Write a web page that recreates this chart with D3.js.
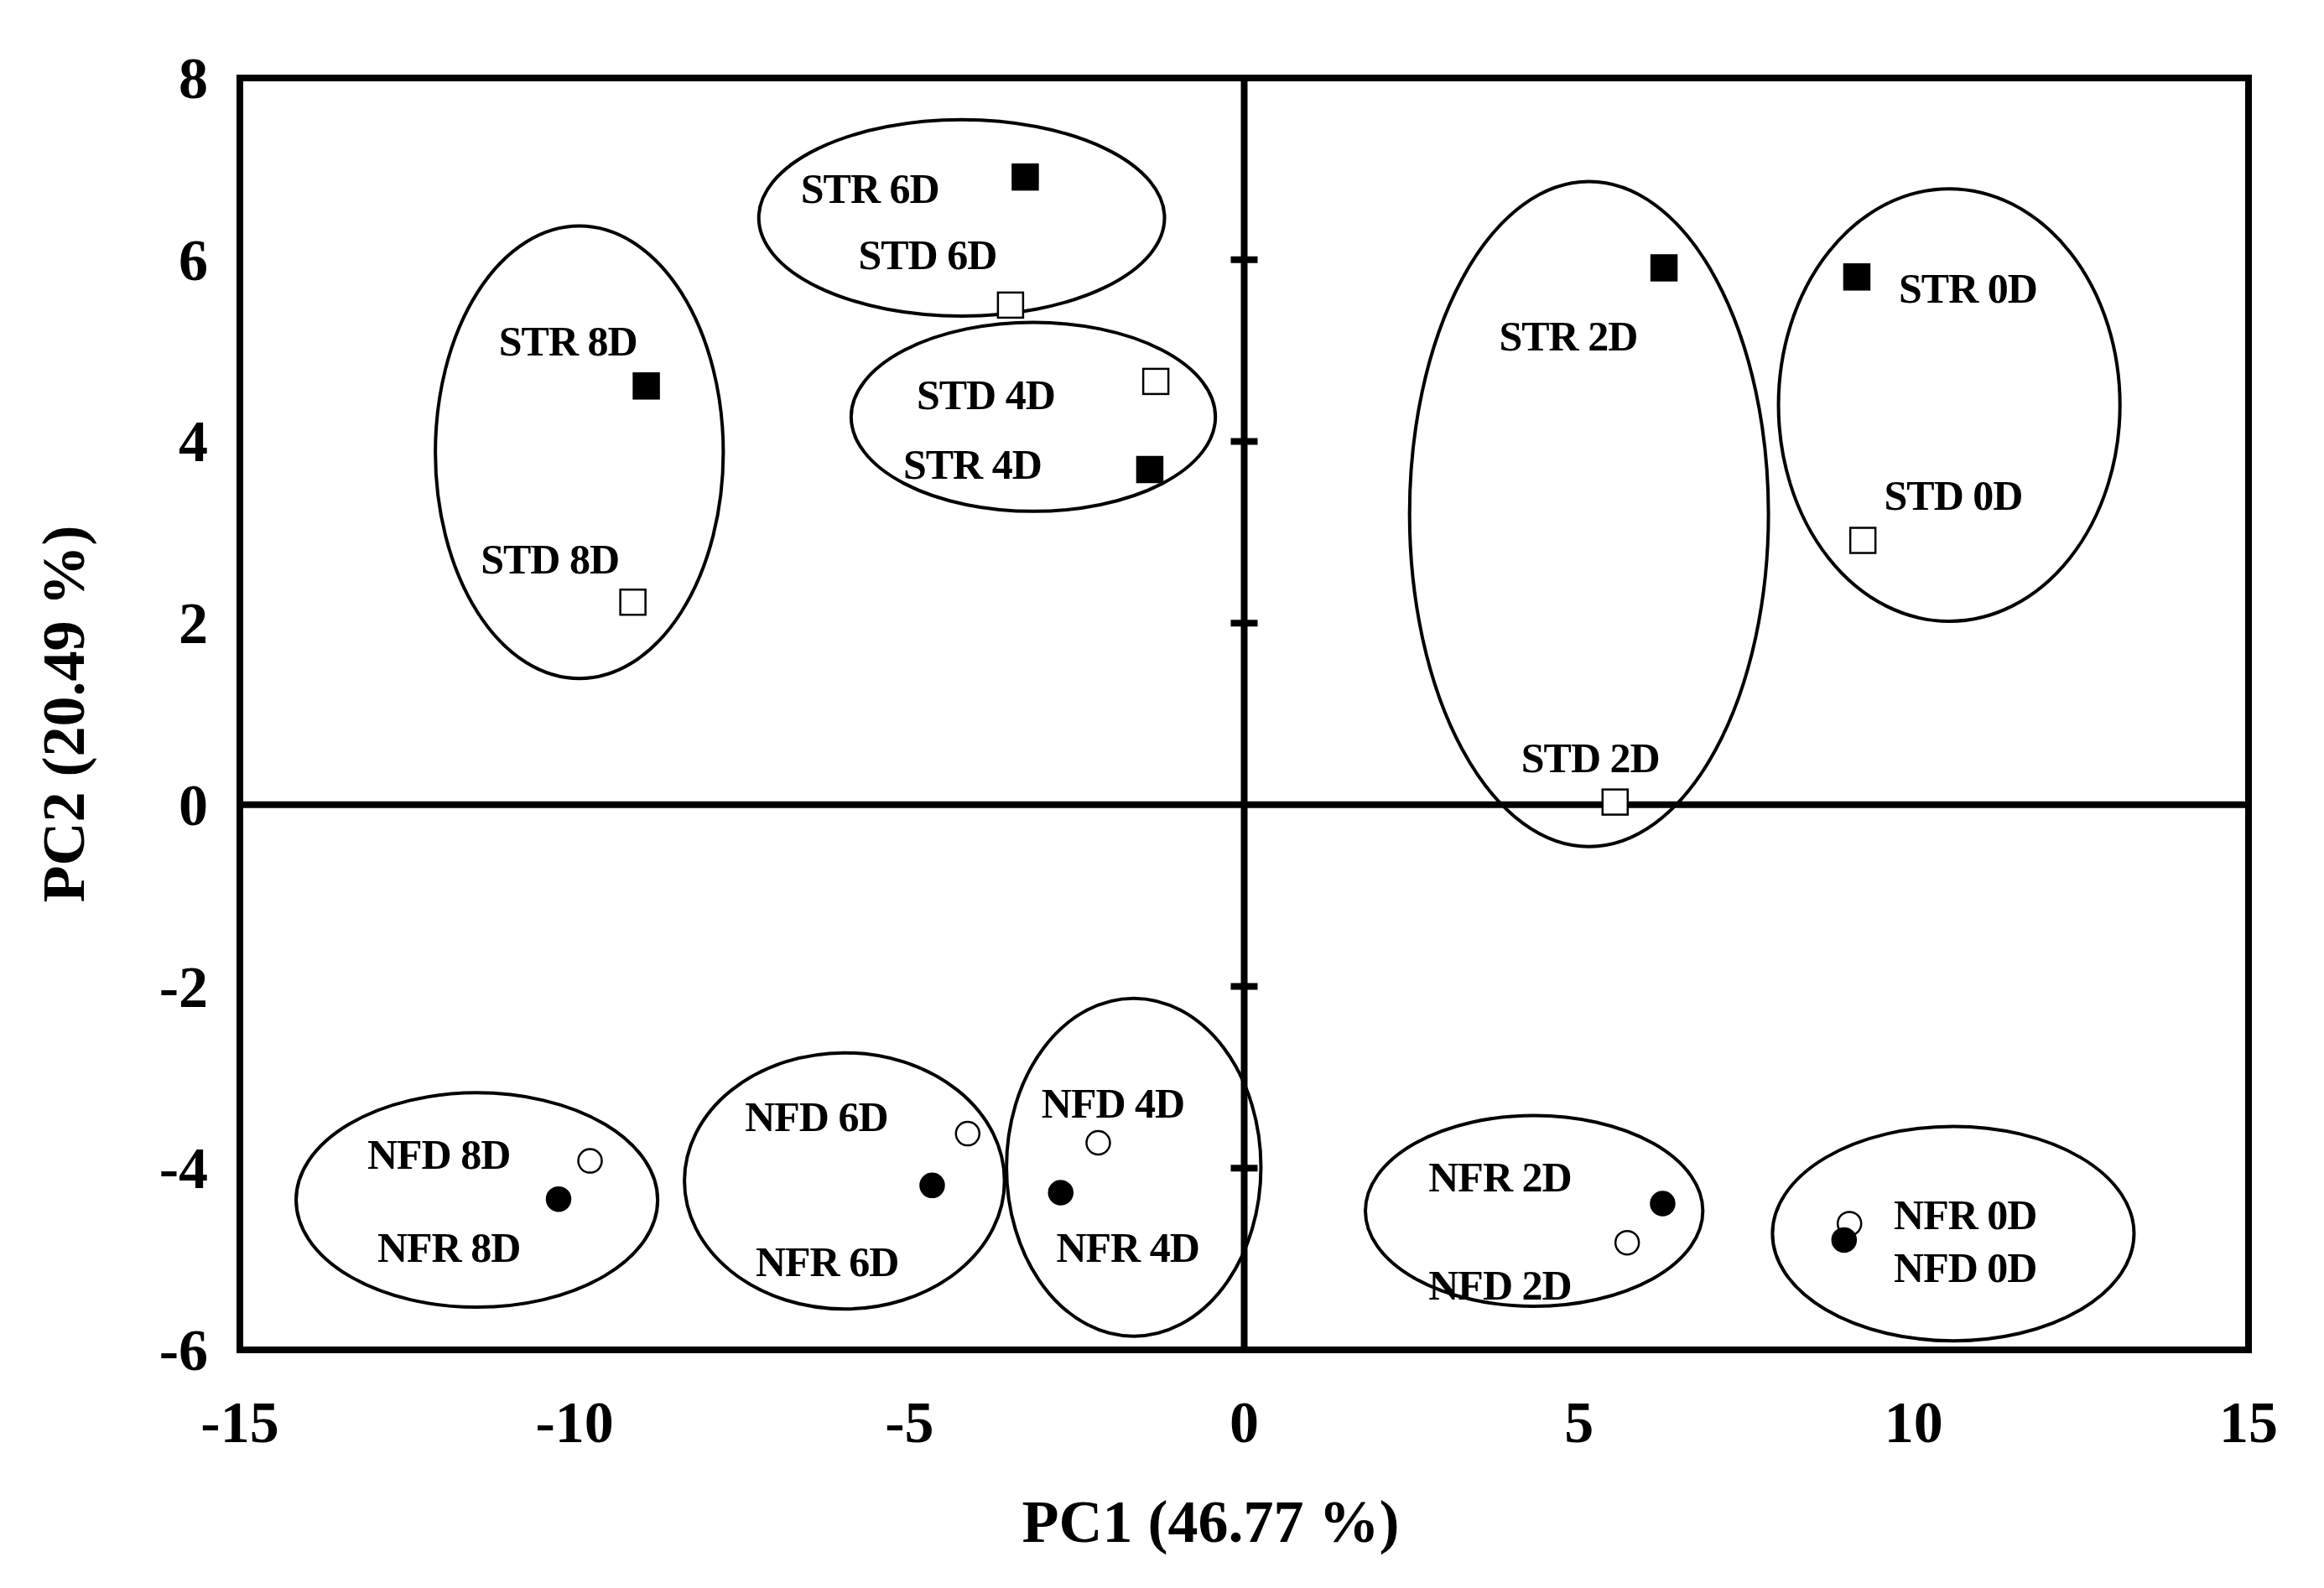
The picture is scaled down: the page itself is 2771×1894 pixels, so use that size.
<!DOCTYPE html>
<html><head><meta charset="utf-8">
<script src="https://cdn.jsdelivr.net/npm/d3@7"></script>
<style>body{margin:0;background:#fff}text{font-family:"Liberation Serif",serif;font-weight:bold}</style>
</head><body><div id="chart"></div>
<script>
// points: name, PC1, PC2, shape, filled
var names = ["STR 6D","STD 6D","STR 8D","STD 8D","STD 4D","STR 4D","STR 2D","STD 2D","STR 0D","STD 0D",
  "NFD 8D","NFR 8D","NFD 6D","NFR 6D","NFD 4D","NFR 4D","NFR 2D","NFD 2D","NFR 0D","NFD 0D"];
var pc1 = [-3.27,-3.49,-8.93,-9.13,-1.32,-1.41,6.27,5.54,9.15,9.24,-9.77,-10.24,-4.13,-4.66,-2.18,-2.74,6.25,5.72,9.04,8.96];
var pc2 = [6.91,5.50,4.61,2.23,4.66,3.69,5.91,0.03,5.81,2.91,-3.92,-4.34,-3.62,-4.19,-3.72,-4.27,-4.39,-4.82,-4.61,-4.79];
var shape = ["sq","sq","sq","sq","sq","sq","sq","sq","sq","sq","ci","ci","ci","ci","ci","ci","ci","ci","ci","ci"];
var filled = [1,0,1,0,0,1,1,0,1,0,0,1,0,1,0,1,1,0,0,1];
// label anchor positions (data units)
var labX = [-5.59,-4.73,-10.1,-10.37,-3.86,-4.06,4.84,5.17,10.81,10.59,-12.03,-11.88,-6.39,-6.23,-1.96,-1.74,3.82,3.82,10.77,10.77];
var labY = [6.78,6.05,5.10,2.70,4.51,3.75,5.16,0.52,5.68,3.40,-3.85,-4.87,-3.43,-5.03,-3.29,-4.87,-4.10,-5.29,-4.51,-5.10];
// ellipses: centre and radii (data units)
var ellCx = [-4.22,-3.15,-9.93,5.15,10.53,-11.46,-5.97,-1.65,4.33,10.59];
var ellCy = [6.46,4.27,3.88,3.20,4.40,-4.35,-4.14,-3.99,-4.47,-4.72];
var ellRx = [3.03,2.72,2.15,2.68,2.55,2.70,2.39,1.90,2.52,2.70];
var ellRy = [1.08,1.04,2.49,3.66,2.38,1.18,1.41,1.86,1.05,1.18];
var xTicks = [-15,-10,-5,0,5,10,15];
var yTicks = [8,6,4,2,0,-2,-4,-6];

var W = 2771, H = 1894;
var m = {left: 286, right: 90, top: 93, bottom: 284};
var svg = d3.select("#chart").append("svg").attr("width", W).attr("height", H);
var x = d3.scaleLinear().domain([-15, 15]).range([m.left, W - m.right]);
var y = d3.scaleLinear().domain([-6, 8]).range([H - m.bottom, m.top]);

// frame
svg.append("rect").attr("x", x(-15)).attr("y", y(8)).attr("width", x(15) - x(-15)).attr("height", y(-6) - y(8))
  .attr("fill", "none").attr("stroke", "#000").attr("stroke-width", 8);
// zero axes
svg.append("line").attr("x1", x(-15)).attr("x2", x(15)).attr("y1", y(0)).attr("y2", y(0)).attr("stroke", "#000").attr("stroke-width", 8);
svg.append("line").attr("x1", x(0)).attr("x2", x(0)).attr("y1", y(8)).attr("y2", y(-6)).attr("stroke", "#000").attr("stroke-width", 8);
svg.selectAll(".ytick").data([6,4,2,-2,-4]).enter().append("line")
  .attr("x1", x(0) - 16).attr("x2", x(0) + 16).attr("y1", d => y(d)).attr("y2", d => y(d))
  .attr("stroke", "#000").attr("stroke-width", 8);

// tick labels
svg.selectAll(".xl").data(xTicks).enter().append("text")
  .attr("x", d => x(d)).attr("y", y(-6) + 110).attr("text-anchor", "middle").attr("font-size", 70).text(d => d);
svg.selectAll(".yl").data(yTicks).enter().append("text")
  .attr("x", x(-15) - 38).attr("y", d => y(d) + 24).attr("text-anchor", "end").attr("font-size", 70).text(d => d);

// axis titles
svg.append("text").attr("x", (x(-15) + x(15)) / 2 - 40).attr("y", H - 55).attr("text-anchor", "middle")
  .attr("font-size", 72).text("PC1 (46.77 %)");
svg.append("text").attr("transform", "translate(100," + ((y(8) + y(-6)) / 2) + ") rotate(-90)")
  .attr("text-anchor", "middle").attr("font-size", 72).text("PC2 (20.49 %)");

// ellipses
svg.selectAll(".ell").data(ellCx).enter().append("ellipse")
  .attr("cx", d => x(d)).attr("cy", (d, i) => y(ellCy[i]))
  .attr("rx", (d, i) => x(ellRx[i]) - x(0)).attr("ry", (d, i) => y(0) - y(ellRy[i]))
  .attr("fill", "none").attr("stroke", "#000").attr("stroke-width", 4);

// markers
var idx = d3.range(names.length);
svg.selectAll(".sq").data(idx.filter(i => shape[i] == "sq")).enter().append("rect")
  .attr("x", i => x(pc1[i]) - 15).attr("y", i => y(pc2[i]) - 15).attr("width", 30).attr("height", 30)
  .attr("fill", i => filled[i] ? "#000" : "#fff").attr("stroke", "#000").attr("stroke-width", 2.5);
svg.selectAll(".ci").data(idx.filter(i => shape[i] == "ci")).enter().append("circle")
  .attr("cx", i => x(pc1[i])).attr("cy", i => y(pc2[i])).attr("r", 14)
  .attr("fill", i => filled[i] ? "#000" : "#fff").attr("stroke", "#000").attr("stroke-width", 2.5);

// labels
svg.selectAll(".lab").data(idx).enter().append("text")
  .attr("x", i => x(labX[i])).attr("y", i => y(labY[i]) + 17).attr("text-anchor", "middle")
  .attr("font-size", 50).attr("letter-spacing", -1).text(i => names[i]);
</script></body></html>
